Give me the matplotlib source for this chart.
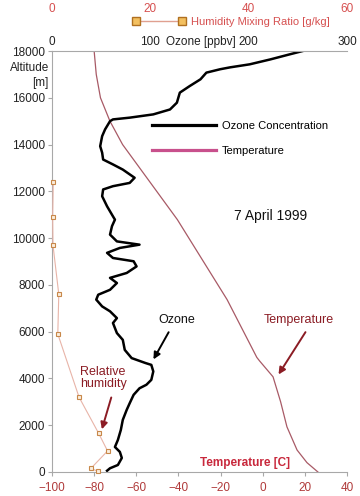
import numpy as np
import matplotlib
matplotlib.use("Agg")
import matplotlib.pyplot as plt
from matplotlib.lines import Line2D

plt.rcParams['font.family'] = ['Liberation Sans', 'DejaVu Sans']

# ozone profile (altitude m, ppbv)
alt_oz = [18000, 17860, 17640, 17430, 17300, 17220, 17075, 16790, 16500, 16220,
          15790, 15500, 15290, 15150, 15075, 15000, 14650, 14360, 13930, 13650,
          13360, 13150, 12930, 12580, 12360, 12220, 12080, 11790, 11360, 10930,
          10790, 10510, 10150, 9860, 9720, 9580, 9370, 9150, 9010, 8790,
          8510, 8300, 8080, 7790, 7580, 7370, 7080, 6870, 6580, 6370,
          5940, 5650, 5220, 4870, 4660, 4580, 4300, 3940, 3730, 3580,
          3300, 2940, 2660, 2230, 1800, 1370, 1070, 860, 600, 300, 160, 55]
ozone = [255, 242, 222, 201, 181, 171, 157, 151, 140, 130,
         127, 120, 103, 79, 62, 59, 54, 51, 49, 51,
         52, 62, 72, 84, 79, 62, 52, 51, 56, 62,
         64, 61, 59, 66, 89, 69, 56, 62, 83, 86,
         76, 59, 66, 59, 47, 45, 51, 59, 66, 62,
         66, 72, 74, 81, 95, 101, 103, 101, 96, 89,
         83, 79, 76, 72, 70, 67, 64, 69, 71, 67, 59, 56]

# temperature profile (altitude m, deg C)
alt_t = [18000, 17000, 16000, 15000, 14000, 10790, 7370, 4900, 4750, 4070,
         3000, 1930, 940, 400, 0]
temp = [-80, -79, -77, -72.5, -66.5, -40.5, -16.9, -2.8, -1.5, 4.9,
        8.5, 11.5, 16.3, 21, 26.2]

# humidity mixing ratio (altitude m, g/kg)
alt_h = [30, 150, 900, 1650, 3200, 5900, 7600, 9700, 10900, 12400]
hum = [9.4, 7.9, 11.3, 9.5, 5.5, 1.18, 1.38, 0.2, 0.14, 0.26]

temp_ticks = [-100, -80, -60, -40, -20, 0, 20, 40]
oz_ticks = [0, 100, 200, 300]
hum_ticks = [0, 20, 40, 60]
alt_ticks = list(range(0, 18001, 2000))

grey = '#a8a8a8'
fig = plt.figure(figsize=(3.6, 4.96), dpi=100)
ax = fig.add_axes([52/360, 24/496, 295/360, 421/496])

# temperature (bottom axis)
ax.plot(temp, alt_t, color='#a85a66', lw=0.9)
ax.set_xlim(-100, 40)
ax.set_ylim(0, 18000)
ax.set_xticks(temp_ticks)
ax.set_yticks(alt_ticks)
ax.tick_params(axis='x', colors=grey, labelcolor='#b03a3a', labelsize=8.5, length=3, pad=4)
ax.tick_params(axis='y', colors=grey, labelcolor='#222222', labelsize=8.5, length=3, pad=2)
for s in ['top', 'right']:
    ax.spines[s].set_visible(False)
for s in ['left', 'bottom']:
    ax.spines[s].set_color(grey)
ax.text(-8.6, 385, 'Temperature [C]', color='#c8283c', fontsize=8.5, fontweight='bold',
        ha='center', va='center')
ax.text(-101.5, 16950, 'Altitude\n[m]', ha='right', va='center', fontsize=8.5,
        color='#222222', linespacing=1.3)

# annotations
ax.text(-41, 6510, 'Ozone', ha='center', va='center', fontsize=9, color='#111111')
ax.annotate('', xy=(-52.5, 4710), xytext=(-44, 6080),
            arrowprops=dict(arrowstyle='-|>', color='black', lw=1.4, mutation_scale=10))
ax.text(17, 6510, 'Temperature', ha='center', va='center', fontsize=9, color='#8b1c24')
ax.annotate('', xy=(6.8, 4070), xytext=(21, 6080),
            arrowprops=dict(arrowstyle='-|>', color='#8b1c24', lw=1.4, mutation_scale=10))
ax.text(-86.7, 4030, 'Relative\nhumidity', ha='left', va='center', fontsize=9,
        color='#8b1c24', linespacing=1.05)
ax.annotate('', xy=(-76.7, 1710), xytext=(-71.5, 3300),
            arrowprops=dict(arrowstyle='-|>', color='#8b1c24', lw=1.4, mutation_scale=10))
ax.text(3.5, 10940, '7 April 1999', ha='center', va='center', fontsize=10, color='#111111')

# ozone (top axis)
ax2 = ax.twiny()
ax2.plot(ozone, alt_oz, color='black', lw=1.8)
ax2.set_xlim(0, 300)
ax2.set_xticks(oz_ticks)
ax2.tick_params(axis='x', colors=grey, labelcolor='#222222', labelsize=8.5, length=0, pad=2)
for s in ['bottom', 'left', 'right']:
    ax2.spines[s].set_visible(False)
ax2.spines['top'].set_color(grey)
ax2.set_xlabel('Ozone [ppbv]', fontsize=8.5, color='#222222')
ax2.xaxis.set_label_coords(0.505, 1.006)
ax2.xaxis.label.set_va('bottom')

leg_handles = [Line2D([], [], color='black', lw=2.3),
               Line2D([], [], color='#c8508c', lw=2.3)]
ax2.legend(leg_handles, ['Ozone Concentration', 'Temperature'], loc='upper left',
           bbox_to_anchor=(0.339, 0.833), frameon=False, fontsize=8,
           handlelength=5.8, handletextpad=0.5, labelspacing=1.35,
           borderpad=0, borderaxespad=0)

# humidity (upper top axis)
ax3 = ax.twiny()
ax3.plot(hum, alt_h, color='#e8b4a8', lw=0.8, marker='s', ms=3.5,
         mfc='#fbeede', mec='#c8884a', mew=0.8, clip_on=False)
ax3.set_xlim(0, 60)
ax3.set_xticks(hum_ticks)
ax3.tick_params(axis='x', labelcolor='#d65050', labelsize=8.5, length=0, pad=26)
for s in ax3.spines.values():
    s.set_visible(False)
hum_handle = Line2D([], [], color='#e0a090', lw=1, marker='s', ms=6,
                    mfc='#f3c060', mec='#b07020', mew=1)
ax3.legend([hum_handle], ['Humidity Mixing Ratio [g/kg]'], loc='center left',
           bbox_to_anchor=(133/360, 1 - 22/496), bbox_transform=fig.transFigure,
           frameon=False, fontsize=8, numpoints=2, handlelength=4.7,
           handletextpad=0.5, borderpad=0, borderaxespad=0, labelcolor='#d65050')

fig.savefig('out.png', dpi=100)
